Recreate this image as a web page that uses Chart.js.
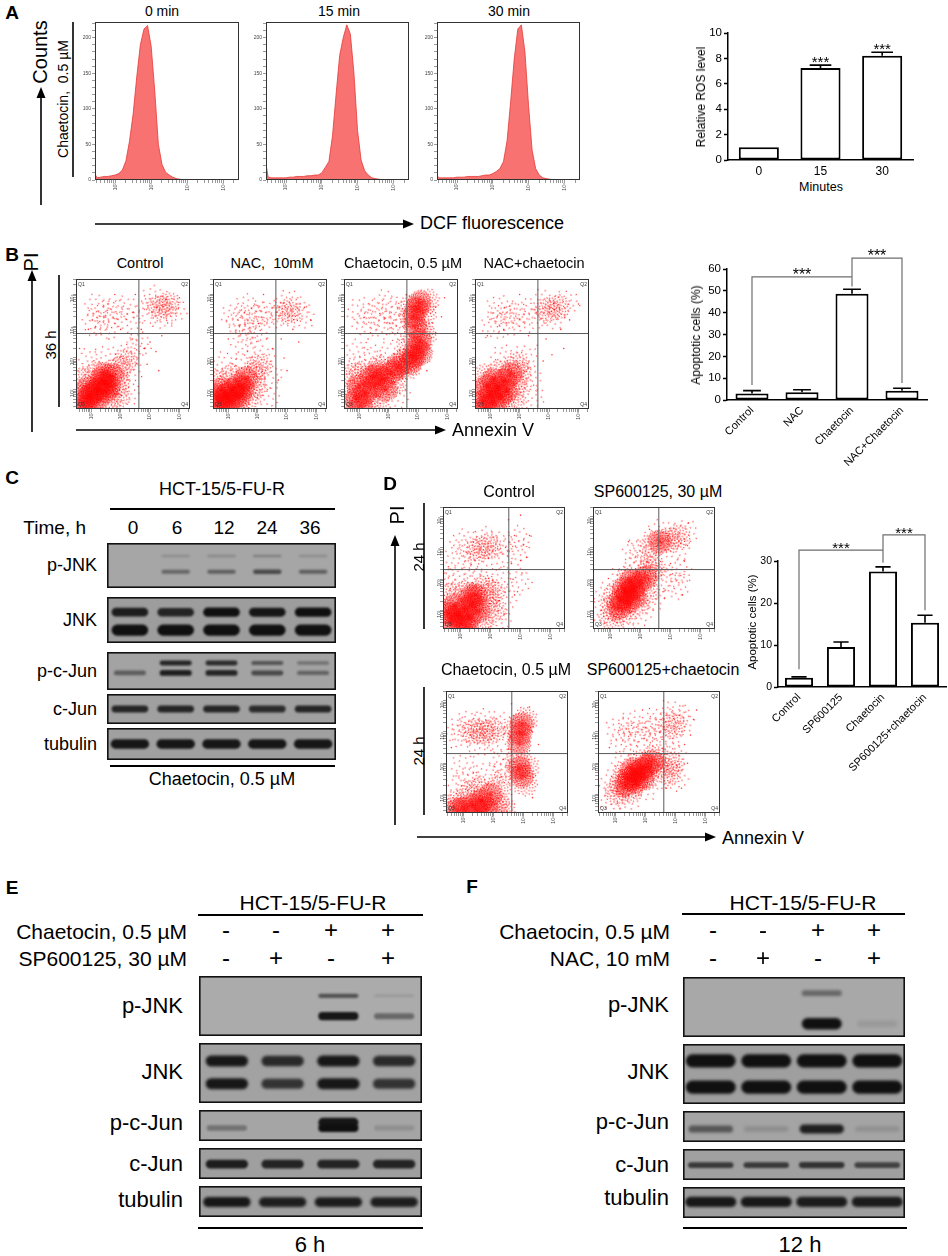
<!DOCTYPE html>
<html>
<head>
<meta charset="utf-8">
<script src="https://cdn.jsdelivr.net/npm/chart.js@4.4.1/dist/chart.umd.min.js"></script>
<style>
  body { margin: 0; background: #fff; }
  #fig { position: relative; width: 948px; height: 1256px; overflow: hidden;
         font-family: 'Liberation Sans', Arial, sans-serif; color: #000; background: #fff; }
  .t { position: absolute; white-space: pre; line-height: 1; }
</style>
</head>
<body>
<div id="fig"></div>
<script>
"use strict";

// DATA -----------------------
// A: DCF histograms (x = log10 fluorescence, y = counts)
const histX = [1.44,1.5,1.6,1.7,1.8,1.9,2.0,2.1,2.2,2.3,2.4,2.5,2.6,2.7,2.8,2.9,3.0,3.1,3.2,3.3,3.4,3.5,3.6,3.7,3.8,3.9,4.0,4.1,4.2,4.3,4.4,4.5,4.6,4.8,5.0,5.2,5.44];
const hist0  = [8,3,4,5,5,6,7,9,14,27,55,93,145,190,212,217,188,125,50,22,11,7,4,2,1,0,0,0,0,0,0,0,0,0,0,0,0];
const hist15 = [22,4,3,3,3,3,3,4,4,5,5,5,6,6,7,7,10,18,26,62,120,175,200,218,205,150,70,28,13,7,3,2,1,0,0,0,0];
const hist30 = [6,3,3,3,3,3,4,4,4,5,5,5,5,6,7,7,9,12,16,26,55,110,170,212,218,180,105,42,16,7,3,2,1,0,0,0,0];
const histTitles = ['0 min', '15 min', '30 min'];

const decades = [2, 3, 4, 5];
const decadeLabels = ['10\u00b2', '10\u00b3', '10\u2074', '10\u2075'];

// A: relative ROS
const rosCats = ['0', '15', '30'];
const rosMean = [1.0, 7.25, 8.2];
const rosErr  = [0, 0.22, 0.28];
const rosSig  = ['', '***', '***'];

// B / D: apoptosis bars; brackets = [from, to, top, left foot, right foot, label]
const apoBCats = ['Control', 'NAC', 'Chaetocin', 'NAC+Chaetocin'];
const apoBMean = [3.0, 3.6, 48.7, 4.2];
const apoBErr  = [1.3, 1.1, 2.0, 1.2];
const apoBSig  = [[0, 2, 56.4, 6.9, 56.4, '***'], [2, 3, 65, 52, 7.8, '***']];

const apoDCats = ['Control', 'SP600125', 'Chaetocin', 'SP600125+chaetocin'];
const apoDMean = [2.2, 9.5, 27.5, 15.3];
const apoDErr  = [0.2, 1.2, 1.1, 1.8];
const apoDSig  = [[0, 2, 32.6, 4.2, 32.6, '***'], [2, 3, 36.2, 29.6, 18.3, '***']];

// B / D: flow plots, log10 annexin V (x) vs log10 PI (y)
// cloud = [x, y, density 1..3], dots = single events
const axB = { x0: 1.48, x1: 5.36, y0: 1.39, y1: 5.49, qx: 3.62, qy: 3.77 };
const axD = { x0: 1.42, x1: 5.48, y0: 1.41, y1: 5.31, qx: 3.61, qy: 3.31 };

const cloudB1 = [[1.7,1.6,3],[1.95,1.8,3],[2.2,2.0,3],[2.45,2.2,3],[2.7,2.45,3],[2.2,1.7,3],[1.9,2.05,3],[2.5,1.95,3],[2.45,2.5,3],
  [2.05,1.9,3],[2.35,2.3,3],[2.6,2.1,3],[1.8,1.45,3],
  [1.6,1.9,2],[1.6,1.5,2],[2.0,1.5,2],[2.6,1.7,2],[2.9,2.2,2],[2.95,2.65,2],[3.15,2.9,2],[2.2,2.5,2],[1.7,2.35,2],[2.9,1.8,2],
  [3.3,2.6,1],[3.4,3.2,1],[2.5,3.0,1],[1.8,2.9,1],[3.2,1.9,1],[3.6,3.4,1],
  [2.1,4.1,1],[2.4,4.35,1],[2.75,4.5,1],[3.1,4.55,1],[2.5,4.0,1],[3.3,4.2,1],[2.2,4.6,1],
  [4.3,4.6,2],[4.6,4.7,2],[3.9,4.45,1],[4.1,4.85,1],[4.8,4.5,1],[4.5,4.35,1]];
const dotsB1 = [[3.8,3.3],[4.0,3.5],[4.2,3.2],[3.9,2.8],[4.4,3.7],[3.7,3.9],[4.1,4.0],[1.9,3.9],[2.6,3.6],[3.0,3.9],[4.6,4.1],
  [5.0,4.9],[3.5,5.0],[2.8,5.0],[4.3,2.6],[3.6,2.1],[1.6,3.3],[3.4,3.6]];

const cloudB2 = [[1.7,1.65,3],[1.95,1.85,3],[2.15,2.0,3],[2.35,2.15,3],[2.0,1.6,3],[2.4,1.8,3],[1.75,2.0,3],[2.6,2.35,3],
  [1.85,1.45,3],[2.2,1.75,3],[2.5,2.05,3],[1.6,1.8,3],
  [1.55,1.5,2],[2.3,1.5,2],[2.7,1.8,2],[2.85,2.5,2],[3.05,2.75,2],[1.6,2.25,2],[2.1,2.4,2],[2.9,2.1,2],
  [3.2,3.0,1],[3.4,2.4,1],[2.5,2.8,1],[1.9,2.8,1],[3.3,1.7,1],
  [2.5,3.5,1],[2.7,3.8,1],[2.4,4.1,1],[2.8,4.25,1],[3.1,4.4,1],[3.4,4.45,1],[2.2,4.3,1],[3.0,3.9,1],[2.6,4.6,1],
  [4.05,4.45,2],[3.8,4.35,1],[4.3,4.55,1],[4.0,4.75,1],[4.5,4.3,1]];
const dotsB2 = [[3.5,3.3],[3.8,3.6],[3.9,3.0],[4.2,3.9],[4.0,2.6],[3.7,2.3],[4.6,4.6],[2.0,3.6],[3.3,3.6],[4.8,4.2],[3.2,5.0],[4.4,3.5]];

const cloudB3 = [[1.9,1.7,3],[2.2,1.9,3],[2.5,2.1,3],[2.8,2.35,3],[3.1,2.55,3],[2.4,2.4,3],[2.0,2.1,3],[2.9,2.0,3],
  [2.05,1.5,3],[2.6,2.5,3],[3.3,2.7,3],[3.55,2.9,2],
  [1.6,1.5,2],[1.65,1.9,2],[2.3,1.6,2],[2.6,1.65,2],[3.2,2.2,2],[3.35,2.8,2],[2.7,2.7,2],[2.1,2.5,2],[1.8,2.4,2],[3.5,2.9,2],
  [2.4,3.0,1],[3.0,3.1,1],[3.3,1.8,1],[1.6,2.7,1],[1.9,3.2,1],
  [3.85,3.05,3],[3.95,3.3,3],[4.05,3.55,3],[3.75,2.85,3],[4.1,3.15,3],[3.7,3.4,2],[4.2,3.7,2],[3.65,2.7,2],
  [3.85,4.3,3],[3.95,4.55,3],[4.05,4.75,3],[3.9,4.0,3],[4.2,4.4,2],[3.75,4.6,2],[4.3,4.8,2],[4.1,3.85,2],
  [2.2,4.1,1],[2.5,4.4,1],[2.8,4.0,1],[3.1,4.5,1],[3.3,4.15,1],[2.0,4.5,1],[2.9,4.75,1],[3.4,3.9,1]];
const dotsB3 = [[4.5,4.1],[4.6,4.6],[4.4,3.3],[4.6,3.8],[4.8,4.3],[4.3,2.6],[3.5,3.6],[4.9,4.9],[2.3,3.6],[3.6,5.0]];

const cloudB4 = [[1.75,1.65,3],[2.0,1.85,3],[2.25,2.05,3],[2.5,2.3,3],[2.7,2.5,3],[2.1,1.6,3],[1.9,2.1,3],[2.55,1.95,3],
  [1.85,1.45,3],[2.35,1.8,3],[2.1,2.3,3],
  [1.6,1.5,2],[1.6,1.95,2],[2.4,1.55,2],[2.85,2.15,2],[2.9,2.8,2],[3.0,2.5,2],[2.3,2.55,2],[1.75,2.4,2],[2.8,1.7,2],
  [3.2,3.0,1],[3.3,2.3,1],[2.4,3.0,1],[3.4,1.8,1],
  [2.1,4.0,1],[2.4,4.3,1],[2.8,4.4,1],[3.15,4.45,1],[3.4,4.2,1],[2.6,4.05,1],[2.3,4.6,1],
  [3.95,4.5,2],[4.3,4.6,2],[4.1,4.3,1],[4.6,4.75,1],[3.8,4.75,1]];
const dotsB4 = [[3.6,3.4],[3.9,3.6],[4.1,3.1],[3.8,2.9],[4.4,3.9],[4.7,4.2],[1.9,3.7],[3.3,3.7],[4.5,3.3],[3.0,5.0],[5.0,4.7]];

const cloudD1 = [[1.9,1.85,3],[2.15,2.05,3],[2.4,2.2,3],[2.0,1.6,3],[2.3,1.8,3],[1.7,1.7,3],[2.6,2.0,3],[1.8,2.15,3],[2.5,2.5,3],
  [2.2,1.5,3],[1.6,1.9,3],[2.35,2.45,3],
  [1.55,1.5,2],[1.55,2.0,2],[2.7,1.6,2],[2.9,2.3,2],[2.8,2.75,2],[2.2,2.55,2],[1.7,2.5,2],[3.1,2.0,2],[2.1,1.45,2],[3.05,2.6,2],
  [3.3,3.0,1],[2.5,3.05,1],[1.9,3.0,1],[3.4,2.3,1],[3.3,1.6,1],[1.55,2.9,1],
  [2.95,4.05,2],[2.6,3.95,2],[1.9,3.7,1],[2.3,3.9,1],[2.1,4.2,1],[2.8,4.25,1],[3.3,4.15,1],[3.35,3.7,1],[2.5,3.55,1],
  [3.85,3.9,1],[3.95,4.3,1],[3.95,2.9,1]];
const dotsD1 = [[3.7,3.5],[4.0,3.6],[3.8,4.4],[4.1,4.1],[3.9,2.6],[4.05,3.2],[3.8,2.5],[4.0,5.05],[3.6,4.9],[1.6,3.4],[4.2,3.7],[3.75,3.0],[4.3,4.4]];

const cloudD2 = [[2.35,2.35,3],[2.55,2.55,3],[2.75,2.7,3],[2.95,2.9,3],[2.6,2.3,3],[2.8,2.45,3],[2.45,2.7,3],[3.15,3.05,3],
  [2.3,2.1,3],[2.7,2.95,3],
  [2.1,2.1,2],[2.15,2.45,2],[2.4,1.95,2],[2.9,2.2,2],[3.2,2.6,2],[3.3,3.25,2],[2.6,3.0,2],[2.05,1.8,2],[3.45,3.35,2],
  [1.8,2.0,1],[2.5,1.7,1],[3.4,2.4,1],[2.3,3.0,1],[1.9,2.5,1],[3.0,1.9,1],
  [3.65,4.2,3],[3.4,4.1,2],[3.95,4.25,2],[4.25,4.35,2],[2.8,3.85,1],[3.1,3.95,1],[4.5,4.5,1],[3.6,4.5,1],[4.2,4.0,1],[2.9,3.5,1],[3.3,3.6,1],
  [3.9,3.0,1],[4.2,2.8,1],[4.3,3.25,1]];
const dotsD2 = [[3.75,2.6],[4.4,2.5],[4.0,3.5],[3.5,3.1],[4.6,4.8],[2.6,4.2],[3.3,4.6],[1.8,1.6],[4.45,3.6],[3.8,2.4]];

const cloudD3 = [[2.3,1.65,3],[2.6,1.8,3],[2.9,2.0,3],[2.0,1.55,3],[2.75,1.55,3],[2.45,1.5,3],[1.8,1.5,3],
  [1.8,1.75,2],[2.2,2.0,2],[2.5,2.2,2],[3.1,1.7,2],[3.2,2.3,2],[1.6,1.5,2],[3.3,1.55,2],[3.05,1.5,2],
  [1.7,2.2,1],[2.2,2.5,1],[2.8,2.6,1],[3.4,2.7,1],[2.0,2.9,1],[3.3,3.0,1],
  [2.95,4.05,2],[2.65,4.0,2],[2.35,4.0,2],[2.0,3.9,1],[2.2,4.3,1],[2.7,4.35,1],[3.3,4.2,1],[3.2,3.7,1],[2.5,3.6,1],[1.8,4.1,1],
  [3.9,3.95,3],[3.95,4.25,3],[3.85,3.65,3],[4.05,4.4,2],[3.75,4.1,2],
  [3.95,2.6,3],[3.85,2.85,3],[4.05,2.35,2],[3.8,3.1,2],[4.1,2.9,2]];
const dotsD3 = [[4.2,3.4],[4.3,4.0],[4.4,2.6],[4.3,1.9],[3.7,1.7],[3.6,2.0],[4.5,3.6],[3.6,4.9],[4.2,4.8],[1.6,3.5],[3.5,3.45]];

const cloudD4 = [[2.45,2.5,3],[2.65,2.65,3],[2.85,2.8,3],[3.05,2.9,3],[2.7,2.4,3],[2.55,2.8,3],[3.2,3.05,3],
  [2.35,2.3,3],[2.9,2.55,3],
  [2.2,2.3,2],[2.3,2.65,2],[2.5,2.15,2],[3.0,2.55,2],[3.35,2.9,2],[3.3,3.2,2],[2.8,3.05,2],[2.05,2.05,2],
  [1.9,2.4,1],[2.4,1.9,1],[3.5,2.6,1],[2.3,3.0,1],[3.0,2.2,1],[1.9,1.8,1],
  [2.3,3.75,1],[2.6,3.9,1],[2.9,4.0,1],[3.2,4.1,1],[3.4,3.8,1],[2.5,4.25,1],[3.3,4.35,1],[2.1,4.1,1],
  [3.95,4.2,2],[3.8,3.8,1],[4.2,4.4,1],[4.0,4.6,1],[3.75,4.35,1],
  [3.85,3.0,2],[3.8,2.7,2],[3.95,3.25,1],[4.0,2.5,1]];
const dotsD4 = [[4.3,3.6],[4.4,3.0],[4.6,4.4],[4.5,3.9],[3.7,2.2],[4.2,2.2],[3.6,5.0],[1.8,3.5],[4.7,4.7],[2.9,4.7]];

// C / E / F: western blot band intensities per lane (0 = none, 1 = saturated)
const lanesC = ['0', '6', '12', '24', '36'];
const pJnkC_top  = [0, 0.12, 0.15, 0.22, 0.12];
const pJnkC_bot  = [0, 0.4, 0.45, 0.6, 0.45];
const jnkC_top   = [0.9, 0.85, 1.0, 0.95, 1.0];
const jnkC_bot   = [1.0, 1.0, 1.0, 1.0, 1.0];
const pcJunC_top = [0, 0.85, 0.8, 0.5, 0.3];
const pcJunC_bot = [0.45, 0.9, 0.85, 0.6, 0.4];
const cJunC      = [0.85, 0.85, 0.85, 0.8, 0.85];
const tubC       = [0.95, 0.95, 0.95, 0.95, 0.95];

const lanesE = ['1', '2', '3', '4'];
const chaetE = ['-', '-', '+', '+'];
const spE    = ['-', '+', '-', '+'];
const pJnkE_top  = [0, 0, 0.55, 0.05];
const pJnkE_bot  = [0, 0, 0.95, 0.4];
const jnkE_top   = [0.95, 0.82, 0.95, 0.82];
const jnkE_bot   = [0.95, 0.75, 0.95, 0.75];
const pcJunE_top = [0, 0, 0.95, 0];
const pcJunE_bot = [0.3, 0, 1.0, 0.1];
const cJunE      = [0.9, 0.85, 0.85, 0.85];
const tubE       = [0.95, 0.9, 0.92, 0.9];

const lanesF = ['1', '2', '3', '4'];
const chaetF = ['-', '-', '+', '+'];
const nacF   = ['-', '+', '-', '+'];
const pJnkF_top = [0, 0, 0.4, 0];
const pJnkF_bot = [0, 0, 1.0, 0.04];
const jnkF_top  = [1, 1, 1, 1];
const jnkF_bot  = [1, 1, 1, 1];
const pcJunF    = [0.5, 0.1, 0.9, 0.08];
const cJunF     = [0.7, 0.7, 0.75, 0.65];
const tubF      = [0.95, 0.95, 0.92, 0.92];

// SETUP -----------------------
const FONT = "'Liberation Sans', Arial, sans-serif";
Chart.defaults.font.family = FONT;
Chart.defaults.color = '#000';
Chart.defaults.animation = false;
Chart.defaults.responsive = true;
Chart.defaults.maintainAspectRatio = false;
Chart.defaults.events = [];
Chart.defaults.plugins.legend.display = false;
Chart.defaults.plugins.tooltip.enabled = false;

const fig = document.getElementById('fig');

function place(x, y, w, h) {
  const d = document.createElement('div');
  d.style.cssText = 'position:absolute;left:' + x + 'px;top:' + y + 'px;width:' + w + 'px;height:' + h + 'px';
  const c = document.createElement('canvas');
  d.appendChild(c);
  fig.appendChild(d);
  return c;
}

// text anchored at its centre (al: 'l' / 'r' anchors the left / right edge)
function txt(s, x, y, size, o) {
  o = o || {};
  const d = document.createElement('div');
  d.className = 't';
  d.textContent = s;
  const tx = o.al === 'r' ? '-100%' : (o.al === 'l' ? '0' : '-50%');
  d.style.left = x + 'px';
  d.style.top = y + 'px';
  d.style.fontSize = size + 'px';
  if (o.b) d.style.fontWeight = 'bold';
  d.style.transform = 'translate(' + tx + ',-50%)' + (o.rot ? ' rotate(' + o.rot + 'deg)' : '');
  fig.appendChild(d);
}

const svgNS = 'http://www.w3.org/2000/svg';
const svg = document.createElementNS(svgNS, 'svg');
svg.setAttribute('width', 948);
svg.setAttribute('height', 1256);
svg.style.cssText = 'position:absolute;left:0;top:0';
fig.appendChild(svg);

function line(x1, y1, x2, y2, w) {
  const l = document.createElementNS(svgNS, 'line');
  l.setAttribute('x1', x1); l.setAttribute('y1', y1);
  l.setAttribute('x2', x2); l.setAttribute('y2', y2);
  l.setAttribute('stroke', '#000'); l.setAttribute('stroke-width', w || 1.6);
  svg.appendChild(l);
}
function tri(pts) {
  const p = document.createElementNS(svgNS, 'polygon');
  p.setAttribute('points', pts.map(q => q.join(',')).join(' '));
  p.setAttribute('fill', '#000');
  svg.appendChild(p);
}
function arrowUp(x, yFrom, yTip) {
  line(x, yFrom, x, yTip + 8, 1.6);
  tri([[x - 4.5, yTip + 11], [x + 4.5, yTip + 11], [x, yTip]]);
}
function arrowRight(y, xFrom, xTip) {
  line(xFrom, y, xTip - 8, y, 1.6);
  tri([[xTip - 11, y - 4.5], [xTip - 11, y + 4.5], [xTip, y]]);
}

// speckle sprite used for event clouds (p < 0.5 would pile dots in the middle)
function sprite(R, n, p) {
  const s = Math.ceil(R * 2 + 2);
  const c = document.createElement('canvas');
  c.width = s; c.height = s;
  const g = c.getContext('2d');
  g.fillStyle = 'rgba(255,0,0,0.8)';
  for (let i = 0; i < n; i++) {
    const r = R * Math.pow((i + 0.5) / n, p);
    const a = i * 2.39996;
    g.fillRect(s / 2 + r * Math.cos(a) - 0.6, s / 2 + r * Math.sin(a) - 0.6, 1.2, 1.2);
  }
  return c;
}
const sprites = [null, sprite(14, 20, 0.5), sprite(13, 62, 0.56), sprite(12, 150, 0.62)];

// PLUGINS -----------------------
const framePlugin = {
  id: 'frame',
  afterDatasetsDraw(chart, args, o) {
    const ctx = chart.ctx, a = chart.chartArea;
    ctx.save();
    if (o.qx !== undefined) {
      const px = chart.scales.x.getPixelForValue(o.qx);
      const py = chart.scales.y.getPixelForValue(o.qy);
      ctx.strokeStyle = '#5a5a5a';
      ctx.lineWidth = 1;
      ctx.beginPath();
      ctx.moveTo(px, a.top); ctx.lineTo(px, a.bottom);
      ctx.moveTo(a.left, py); ctx.lineTo(a.right, py);
      ctx.stroke();
      ctx.fillStyle = '#333';
      ctx.font = '5px ' + FONT;
      ctx.textBaseline = 'top';
      ctx.textAlign = 'left'; ctx.fillText('Q1', a.left + 2, a.top + 3);
      ctx.textAlign = 'right'; ctx.fillText('Q2', a.right - 2, a.top + 3);
      ctx.textBaseline = 'bottom';
      ctx.textAlign = 'left'; ctx.fillText('Q3', a.left + 2, a.bottom - 2);
      ctx.textAlign = 'right'; ctx.fillText('Q4', a.right - 2, a.bottom - 2);
    }
    ctx.strokeStyle = '#333';
    ctx.lineWidth = 1;
    ctx.strokeRect(a.left + 0.5, a.top + 0.5, a.width - 1, a.height - 1);
    ctx.restore();
  }
};

const annotPlugin = {
  id: 'annot',
  afterDatasetsDraw(chart, args, o) {
    const ctx = chart.ctx, y = chart.scales.y;
    const bars = chart.getDatasetMeta(0).data;
    ctx.save();
    ctx.strokeStyle = '#000';
    ctx.lineWidth = 1.6;
    o.mean.forEach((m, i) => {
      if (!o.err[i]) return;
      const b = bars[i], ye = y.getPixelForValue(m + o.err[i]), cw = b.width * 0.27;
      ctx.beginPath();
      ctx.moveTo(b.x, b.y); ctx.lineTo(b.x, ye);
      ctx.moveTo(b.x - cw, ye); ctx.lineTo(b.x + cw, ye);
      ctx.stroke();
    });
    ctx.fillStyle = '#000';
    ctx.font = o.starSize + 'px ' + FONT;
    ctx.textAlign = 'center';
    ctx.textBaseline = 'alphabetic';
    (o.stars || []).forEach((s, i) => {
      if (s) ctx.fillText(s, bars[i].x, y.getPixelForValue(o.mean[i] + o.err[i]) + 2);
    });
    ctx.strokeStyle = '#6e6e6e';
    ctx.lineWidth = 1.2;
    (o.brackets || []).forEach(bk => {
      const xa = bars[bk[0]].x, xb = bars[bk[1]].x, yt = y.getPixelForValue(bk[2]);
      ctx.beginPath();
      ctx.moveTo(xa, y.getPixelForValue(bk[3])); ctx.lineTo(xa, yt);
      ctx.lineTo(xb, yt); ctx.lineTo(xb, y.getPixelForValue(bk[4]));
      ctx.stroke();
      ctx.fillText(bk[5], (xa + xb) / 2, yt + 3);
    });
    ctx.restore();
  }
};

const blotPlugin = {
  id: 'blot',
  beforeDatasetsDraw(chart, args, o) {
    const ctx = chart.ctx, a = chart.chartArea;
    ctx.save();
    ctx.fillStyle = o.bg;
    ctx.fillRect(a.left, a.top, a.width, a.height);
    ctx.filter = 'blur(' + o.blur + 'px)';
  },
  afterDatasetsDraw(chart, args, o) {
    const ctx = chart.ctx, a = chart.chartArea;
    ctx.restore();
    ctx.save();
    ctx.strokeStyle = '#111';
    ctx.lineWidth = 1.6;
    ctx.strokeRect(a.left + 0.8, a.top + 0.8, a.width - 1.6, a.height - 1.6);
    ctx.restore();
  }
};

// AXES -----------------------
function decadeLabel(v) {
  const i = decades.findIndex(d => Math.abs(d - v) < 1e-6);
  return i < 0 ? '' : decadeLabels[i];
}
function logTicks(min, max) {
  const t = [];
  for (let n = 1; n <= 5; n++) {
    for (let k = 1; k <= 9; k++) {
      const v = n + Math.log10(k);
      if (v >= min && v <= max) t.push({ value: v });
    }
  }
  return t;
}
function logAxis(min, max, horiz, size) {
  return {
    type: 'linear', min: min, max: max,
    grid: { drawOnChartArea: false, tickLength: 3, color: '#555', lineWidth: 0.6 },
    border: { display: false },
    ticks: { font: { size: 5 }, color: '#444', padding: 0, autoSkip: false,
             maxRotation: 90, minRotation: 90, callback: v => decadeLabel(v) },
    afterBuildTicks: s => { s.ticks = logTicks(min, max); },
    afterFit: s => {
      if (horiz) s.height = size; else s.width = size;
      s.paddingLeft = s.paddingRight = s.paddingTop = s.paddingBottom = 0;
    }
  };
}

// CHARTS -----------------------
function hist(fx, fy, fw, fh, counts) {
  const c = place(fx - 14, fy - 2, fw + 16, fh + 16);
  new Chart(c, {
    type: 'line',
    data: { datasets: [{
      data: histX.map((x, i) => ({ x: x, y: counts[i] })),
      fill: 'origin', backgroundColor: '#f87272', borderColor: '#e33a36',
      borderWidth: 0.8, pointRadius: 0, tension: 0
    }] },
    options: {
      layout: { padding: { top: 2, right: 2, left: 0, bottom: 0 } },
      scales: {
        x: logAxis(1.44, 5.44, true, 14),
        y: {
          type: 'linear', min: 0, max: 222,
          grid: { drawOnChartArea: false, tickLength: 3, color: '#555', lineWidth: 0.6 },
          border: { display: false },
          ticks: { font: { size: 5 }, color: '#444', padding: 1, autoSkip: false,
                   callback: v => (v % 50 === 0 ? String(v) : '') },
          afterBuildTicks: s => {
            const t = [];
            for (let v = 0; v <= 220; v += 10) t.push({ value: v });
            s.ticks = t;
          },
          afterFit: s => { s.width = 14; s.paddingTop = s.paddingBottom = 0; }
        }
      },
      plugins: { frame: {} }
    },
    plugins: [framePlugin]
  });
}

function flow(fx, fy, fw, fh, ax, clouds, dots) {
  const c = place(fx - 12, fy - 2, fw + 14, fh + 14);
  new Chart(c, {
    type: 'scatter',
    data: { datasets: [
      { data: clouds, pointStyle: ctx => sprites[ctx.raw ? ctx.raw[2] : 1],
        rotation: ctx => (ctx.dataIndex * 97) % 360, pointRadius: 6, borderWidth: 0 },
      { data: dots, pointRadius: 0.8, backgroundColor: 'rgba(255,0,0,0.75)', borderWidth: 0 }
    ] },
    options: {
      layout: { padding: { top: 2, right: 2, left: 0, bottom: 0 } },
      scales: { x: logAxis(ax.x0, ax.x1, true, 12), y: logAxis(ax.y0, ax.y1, false, 12) },
      plugins: { frame: { qx: ax.qx, qy: ax.qy } }
    },
    plugins: [framePlugin]
  });
}

function barChart(p) {
  const c = place(p.left, p.top, p.w, p.h);
  new Chart(c, {
    type: 'bar',
    data: { labels: p.cats, datasets: [{
      data: p.mean, backgroundColor: '#fff', borderColor: '#000', borderWidth: 2,
      borderSkipped: false, barPercentage: p.barPct, categoryPercentage: 1
    }] },
    options: {
      layout: { padding: { top: p.padTop, right: p.padRight, left: 0, bottom: 0 } },
      scales: {
        x: {
          grid: { display: false, drawTicks: false },
          border: { color: '#000', width: 1.5 },
          ticks: { font: { size: p.xFont }, color: '#000', padding: 4, autoSkip: false,
                   maxRotation: p.rot, minRotation: p.rot },
          afterFit: s => { s.height = p.xAxH; s.paddingLeft = s.paddingRight = 0; }
        },
        y: {
          min: 0, max: p.yMax,
          ticks: { stepSize: p.yStep, font: { size: p.yFont }, color: '#000', padding: 2 },
          grid: { drawOnChartArea: false, tickLength: 4, tickColor: '#000', tickWidth: 1.5 },
          border: { color: '#000', width: 1.5 },
          afterFit: s => { s.width = p.yAxW; s.paddingTop = s.paddingBottom = 0; }
        }
      },
      plugins: { annot: { mean: p.mean, err: p.err, stars: p.stars, brackets: p.brackets, starSize: p.starSize } }
    },
    plugins: [annotPlugin]
  });
}

function blot(x, y, w, h, bg, blur, lanes, bands) {
  const c = place(x, y, w, h);
  new Chart(c, {
    type: 'bar',
    data: {
      labels: lanes,
      datasets: bands.map(b => ({
        data: b.v.map(v => {
          if (!v) return null;
          const t = b.th * (0.55 + 0.45 * v) / 2;
          return [b.pos - t, b.pos + t];
        }),
        backgroundColor: b.v.map(v => 'rgba(16,16,16,' + (0.05 + 0.95 * v).toFixed(3) + ')'),
        barPercentage: b.wid, categoryPercentage: 1, grouped: false,
        borderRadius: 50, borderSkipped: false, borderWidth: 0
      }))
    },
    options: {
      layout: { padding: 0 },
      scales: {
        x: { display: false, offset: true },
        y: { display: false, min: 0, max: 1 }
      },
      plugins: { blot: { bg: bg, blur: blur } }
    },
    plugins: [blotPlugin]
  });
}

// PANEL A -----------------------
txt('A', 12, 12, 19, { b: true });
hist(95, 22, 144, 158, hist0);
hist(266, 22, 143, 158, hist15);
hist(437, 22, 143, 158, hist30);
txt(histTitles[0], 162, 11, 14);
txt(histTitles[1], 339, 11, 14);
txt(histTitles[2], 509, 11, 14);
txt('Counts', 40, 52, 20, { rot: -90 });
arrowUp(41, 205, 87);
txt('Chaetocin,  0.5 \u00b5M', 63, 99, 14, { rot: -90 });
line(73, 22, 73, 177, 1.6);
arrowRight(224, 95, 414);
txt('DCF fluorescence', 420, 223, 18, { al: 'l' });

barChart({ left: 698, top: 13, w: 221, h: 165, padTop: 20, padRight: 6, yAxW: 30, xAxH: 18,
  cats: rosCats, mean: rosMean, err: rosErr, stars: rosSig, brackets: [], starSize: 15,
  barPct: 0.65, yMax: 10, yStep: 2, rot: 0, xFont: 12, yFont: 11.5 });
txt('Relative ROS level', 701, 97, 12, { rot: -90 });
txt('Minutes', 821, 187, 12.5);

// PANEL B -----------------------
txt('B', 12, 254, 19, { b: true });
txt('PI', 31, 262, 20, { rot: -90 });
arrowUp(32, 432, 270);
line(59, 275, 59, 407, 1.6);
txt('36 h', 50, 345, 15, { rot: -90 });
flow(76, 275, 118, 134, axB, cloudB1, dotsB1);
flow(213, 275, 118, 134, axB, cloudB2, dotsB2);
flow(344, 275, 118, 134, axB, cloudB3, dotsB3);
flow(475, 275, 118, 134, axB, cloudB4, dotsB4);
txt('Control', 140, 263, 14.5);
txt('NAC,  10mM', 272, 263, 14.5);
txt('Chaetocin, 0.5 \u00b5M', 403, 263, 14.5);
txt('NAC+chaetocin', 534, 263, 14.5);
arrowRight(430, 76, 446);
txt('Annexin V', 452, 430, 18, { al: 'l' });

barChart({ left: 697, top: 240, w: 236, h: 240, padTop: 29, padRight: 6, yAxW: 30, xAxH: 80,
  cats: apoBCats, mean: apoBMean, err: apoBErr, stars: [], brackets: apoBSig, starSize: 16,
  barPct: 0.66, yMax: 60, yStep: 10, rot: 45, xFont: 11, yFont: 11.5 });
txt('Apoptotic cells (%)', 696, 335, 12, { rot: -90 });

// PANEL C -----------------------
txt('C', 12, 477, 19, { b: true });
txt('HCT-15/5-FU-R', 222, 489, 18);
line(110, 509, 335, 509, 2);
txt('Time, h', 86, 527, 19, { al: 'r' });
[133, 177, 224, 267, 310].forEach((x, i) => txt(lanesC[i], x, 527, 19));
blot(107, 543, 229, 45, '#a6a6a6', 1.1, lanesC, [
  { v: pJnkC_top, pos: 0.71, th: 0.09, wid: 0.62 }, { v: pJnkC_bot, pos: 0.36, th: 0.12, wid: 0.62 }]);
blot(107, 597, 229, 46, '#9d9d9d', 1.3, lanesC, [
  { v: jnkC_top, pos: 0.67, th: 0.2, wid: 0.8 }, { v: jnkC_bot, pos: 0.28, th: 0.24, wid: 0.8 }]);
blot(107, 652, 229, 38, '#a3a3a3', 1.1, lanesC, [
  { v: pcJunC_top, pos: 0.71, th: 0.14, wid: 0.7 }, { v: pcJunC_bot, pos: 0.45, th: 0.16, wid: 0.7 }]);
blot(107, 694, 229, 30, '#a0a0a0', 1.2, lanesC, [{ v: cJunC, pos: 0.5, th: 0.25, wid: 0.8 }]);
blot(107, 728, 229, 32, '#a0a0a0', 1.3, lanesC, [{ v: tubC, pos: 0.5, th: 0.3, wid: 0.84 }]);
txt('p-JNK', 97, 565, 18, { al: 'r' });
txt('JNK', 97, 620, 18, { al: 'r' });
txt('p-c-Jun', 97, 671, 18, { al: 'r' });
txt('c-Jun', 97, 709, 18, { al: 'r' });
txt('tubulin', 97, 744, 18, { al: 'r' });
line(110, 766, 335, 766, 2);
txt('Chaetocin, 0.5 \u00b5M', 222, 779, 18);

// PANEL D -----------------------
txt('D', 390, 483, 19, { b: true });
txt('PI', 397, 515, 20, { rot: -90 });
arrowUp(395, 825, 535);
line(424, 503, 424, 629, 1.6);
line(424, 687, 424, 815, 1.6);
txt('24 h', 418, 557, 15, { rot: -90 });
txt('24 h', 418, 751, 15, { rot: -90 });
flow(443, 503, 126, 126, axD, cloudD1, dotsD1);
flow(593, 503, 126, 126, axD, cloudD2, dotsD2);
flow(446, 687, 126, 126, axD, cloudD3, dotsD3);
flow(598, 687, 126, 126, axD, cloudD4, dotsD4);
txt('Control', 509, 492, 16);
txt('SP600125, 30 \u00b5M', 658, 492, 16);
txt('Chaetocin, 0.5 \u00b5M', 506, 670, 16);
txt('SP600125+chaetocin', 663, 670, 16);
arrowRight(837, 417, 716);
txt('Annexin V', 722, 838, 18, { al: 'l' });

barChart({ left: 748, top: 520, w: 200, h: 270, padTop: 41, padRight: 2, yAxW: 30, xAxH: 103,
  cats: apoDCats, mean: apoDMean, err: apoDErr, stars: [], brackets: apoDSig, starSize: 15,
  barPct: 0.67, yMax: 30, yStep: 10, rot: 45, xFont: 11, yFont: 10.5 });
txt('Apoptotic cells (%)', 753, 622, 11.5, { rot: -90 });

// PANEL E -----------------------
txt('E', 12, 887, 19, { b: true });
txt('HCT-15/5-FU-R', 313, 902, 21);
line(198, 915, 423, 915, 2);
txt('Chaetocin, 0.5 \u00b5M', 187, 931, 21, { al: 'r' });
txt('SP600125, 30 \u00b5M', 187, 958, 21, { al: 'r' });
[226, 276, 331, 388].forEach((x, i) => { txt(chaetE[i], x, 930, 24); txt(spE[i], x, 958, 24); });
blot(199, 976, 223, 60, '#ababab', 1.3, lanesE, [
  { v: pJnkE_top, pos: 0.67, th: 0.09, wid: 0.72 }, { v: pJnkE_bot, pos: 0.33, th: 0.14, wid: 0.72 }]);
blot(199, 1043, 223, 60, '#a2a2a2', 1.5, lanesE, [
  { v: jnkE_top, pos: 0.7, th: 0.19, wid: 0.76 }, { v: jnkE_bot, pos: 0.32, th: 0.19, wid: 0.76 }]);
blot(199, 1110, 223, 31, '#a5a5a5', 1.3, lanesE, [
  { v: pcJunE_top, pos: 0.6, th: 0.3, wid: 0.72 }, { v: pcJunE_bot, pos: 0.42, th: 0.26, wid: 0.72 }]);
blot(199, 1148, 223, 31, '#9f9f9f', 1.3, lanesE, [{ v: cJunE, pos: 0.48, th: 0.3, wid: 0.76 }]);
blot(199, 1186, 223, 31, '#9f9f9f', 1.4, lanesE, [{ v: tubE, pos: 0.48, th: 0.33, wid: 0.85 }]);
txt('p-JNK', 183, 1006, 22, { al: 'r' });
txt('JNK', 183, 1072, 22, { al: 'r' });
txt('p-c-Jun', 183, 1123, 22, { al: 'r' });
txt('c-Jun', 183, 1164, 22, { al: 'r' });
txt('tubulin', 183, 1200, 22, { al: 'r' });
line(198, 1228, 423, 1228, 2);
txt('6 h', 310, 1245, 22);

// PANEL F -----------------------
txt('F', 472, 886, 19, { b: true });
txt('HCT-15/5-FU-R', 803, 902, 21);
line(682, 914, 905, 914, 2);
txt('Chaetocin, 0.5 \u00b5M', 670, 931, 21, { al: 'r' });
txt('NAC, 10 mM', 670, 958, 21, { al: 'r' });
[713, 763, 818, 874].forEach((x, i) => { txt(chaetF[i], x, 930, 24); txt(nacF[i], x, 958, 24); });
blot(683, 977, 222, 60, '#a8a8a8', 1.5, lanesF, [
  { v: pJnkF_top, pos: 0.73, th: 0.13, wid: 0.72 }, { v: pJnkF_bot, pos: 0.22, th: 0.19, wid: 0.72 }]);
blot(683, 1044, 222, 60, '#9f9f9f', 1.6, lanesF, [
  { v: jnkF_top, pos: 0.72, th: 0.22, wid: 0.9 }, { v: jnkF_bot, pos: 0.28, th: 0.22, wid: 0.9 }]);
blot(683, 1111, 222, 31, '#a4a4a4', 1.5, lanesF, [{ v: pcJunF, pos: 0.42, th: 0.3, wid: 0.8 }]);
blot(683, 1149, 222, 31, '#a0a0a0', 1.3, lanesF, [{ v: cJunF, pos: 0.48, th: 0.22, wid: 0.82 }]);
blot(683, 1187, 222, 31, '#9e9e9e', 1.4, lanesF, [{ v: tubF, pos: 0.52, th: 0.34, wid: 0.92 }]);
txt('p-JNK', 669, 1005, 22, { al: 'r' });
txt('JNK', 669, 1072, 22, { al: 'r' });
txt('p-c-Jun', 669, 1122, 22, { al: 'r' });
txt('c-Jun', 669, 1165, 22, { al: 'r' });
txt('tubulin', 669, 1198, 22, { al: 'r' });
line(683, 1228, 907, 1228, 2);
txt('12 h', 800, 1245, 22);
</script>
</body>
</html>
